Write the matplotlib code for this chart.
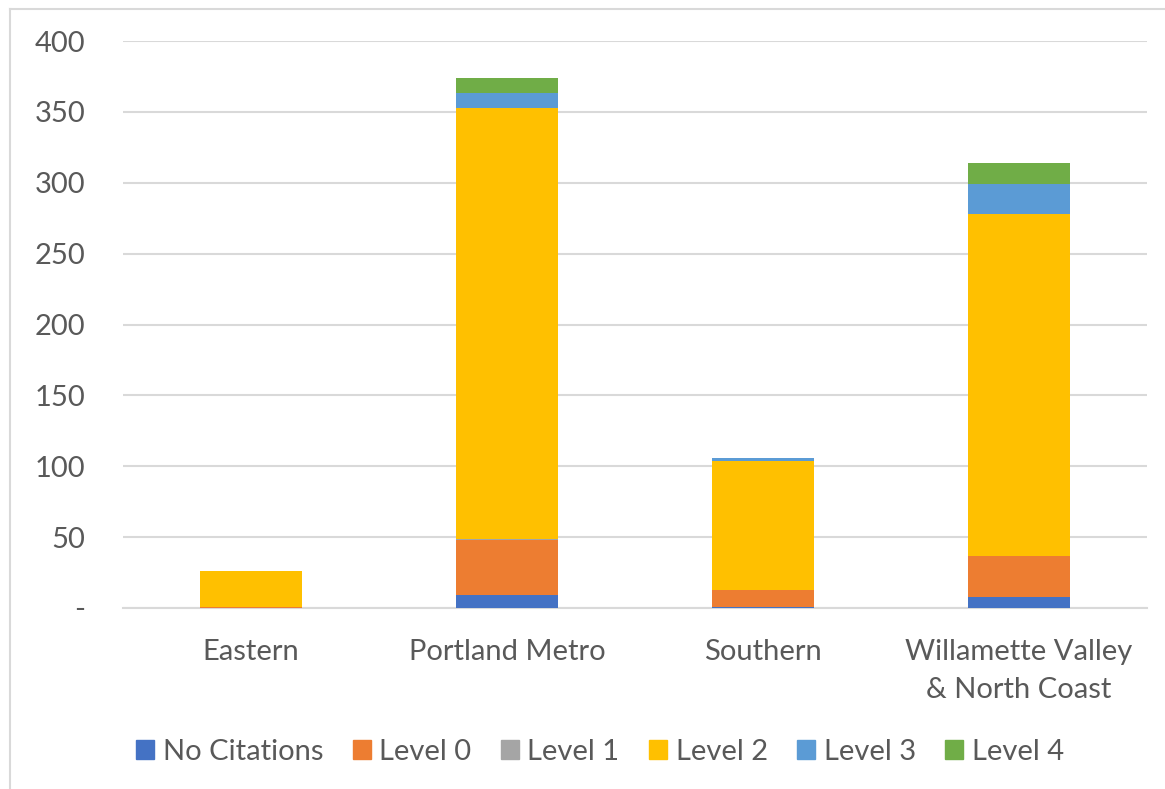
import matplotlib
matplotlib.use("Agg")
import matplotlib.pyplot as plt
from matplotlib.lines import Line2D
import numpy as np

regions = ["Eastern", "Portland Metro", "Southern", "Willamette Valley\n& North Coast"]
series_names = ["No Citations", "Level 0", "Level 1", "Level 2", "Level 3", "Level 4"]
no_citations = [0, 9, 1, 8]
level0 = [1, 39, 12, 29]
level1 = [0, 1, 0, 0]
level2 = [25, 304, 91, 241]
level3 = [0, 10, 2, 21]
level4 = [0, 11, 0, 15]
series_values = [no_citations, level0, level1, level2, level3, level4]
colors = ["#4472C4", "#ED7D31", "#A5A5A5", "#FFC000", "#5B9BD5", "#70AD47"]
yticks = [0, 50, 100, 150, 200, 250, 300, 350, 400]
ytick_labels = ["-", "50", "100", "150", "200", "250", "300", "350", "400"]

plt.rcParams["font.family"] = ["Lato", "DejaVu Sans"]
text_color = "#595959"
grid_color = "#D9D9D9"
fs = 21

W, H = 1165, 789
fig = plt.figure(figsize=(W / 100, H / 100), dpi=100)
ax = fig.add_axes([123 / W, 1 - 608 / H, (1147 - 123) / W, (608 - 41) / H])

x = np.arange(len(regions))
bottom = np.zeros(len(regions))
for name, vals, col in zip(series_names, series_values, colors):
    v = np.array(vals, dtype=float)
    ax.bar(x, v, 0.40, bottom=bottom, color=col, label=name,
           linewidth=0, zorder=3)
    bottom += v

ax.set_xlim(-0.5, len(regions) - 0.5)
ax.set_ylim(0, 400)
ax.set_yticks(yticks)
ax.set_yticklabels(ytick_labels)
ax.set_xticks(x)
ax.set_xticklabels(regions, linespacing=1.6)
ax.yaxis.grid(True, color=grid_color, linewidth=1.5, zorder=0)
ax.set_axisbelow(True)
for s in ["left", "right", "top"]:
    ax.spines[s].set_visible(False)
ax.spines["bottom"].set_color(grid_color)
ax.spines["bottom"].set_linewidth(1.5)
ax.tick_params(axis="both", length=0, labelsize=fs, colors=text_color)
ax.tick_params(axis="y", pad=27)
ax.tick_params(axis="x", pad=22)

handles = [plt.Rectangle((0, 0), 1, 1, color=c) for c in colors]
fig.legend(handles, series_names, loc="center", ncol=6,
           bbox_to_anchor=(600 / W, 1 - 752 / H), frameon=False,
           fontsize=fs, labelcolor=text_color, handlelength=0.62,
           handleheight=0.62, handletextpad=0.3, columnspacing=1.0)

# chart frame
fig.add_artist(Line2D([10 / W, 10 / W], [0, 1 - 9 / H], color=grid_color, linewidth=1.5))
fig.add_artist(Line2D([10 / W, 1], [1 - 9 / H, 1 - 9 / H], color=grid_color, linewidth=1.5))

fig.savefig("out.png", dpi=100)
